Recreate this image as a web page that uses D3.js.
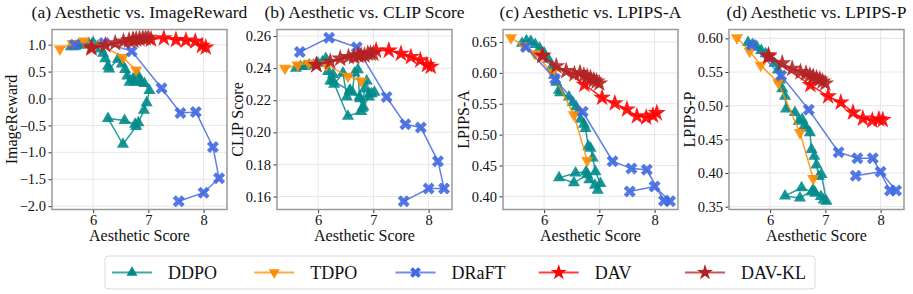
<!DOCTYPE html>
<html>
<head>
<meta charset="utf-8">
<script src="https://cdn.jsdelivr.net/npm/d3@7"></script>
<style>
  body { margin: 0; background: #fff; }
  svg text { font-family: "Liberation Serif", "DejaVu Serif", serif; }
</style>
</head>
<body>
<div id="chart"></div>
<script>
// aesthetic score (shared x of every panel)
var ddpoX  = [5.60, 5.68, 5.76, 5.84, 5.92, 6.00, 6.08, 6.14, 6.18, 6.22, 6.27, 6.29, 6.45, 6.52, 6.58, 6.62,
              6.66, 6.72, 6.75, 6.80, 6.84, 6.88, 6.93, 7.02, 6.97, 6.92, 6.82, 6.78, 6.54, 6.27, 6.57, 6.76];
var tdpoX  = [5.40, 5.63, 5.83, 6.15, 6.54, 6.78];
var draftX = [5.67, 6.20, 6.70, 7.24, 7.58, 7.86, 8.17, 8.28, 8.00, 7.55];
var davX   = [5.97, 6.73, 7.05, 7.28, 7.50, 7.68, 7.85, 7.97, 8.04];
var davklX = [5.97, 6.22, 6.40, 6.55, 6.65, 6.72, 6.78, 6.84, 6.90, 6.95, 7.00];

// ImageReward
var ddpoIR  = [0.96, 0.97, 0.99, 1.00, 1.02, 1.04, 0.97, 0.92, 0.84, 0.74, 0.60, 0.55, 0.73, 0.64, 0.54, 0.42,
               0.30, 0.36, 0.30, 0.45, 0.33, 0.30, 0.28, 0.15, -0.08, -0.22, -0.45, -0.52, -0.85, -0.37, -0.41, -0.48];
var tdpoIR  = [0.92, 1.02, 1.07, 1.00, 0.76, 0.53];
var draftIR = [1.00, 1.03, 0.88, 0.19, -0.27, -0.25, -0.90, -1.48, -1.75, -1.91];
var davIR   = [0.93, 1.08, 1.10, 1.12, 1.09, 1.08, 1.06, 0.98, 0.95];
var davklIR = [0.95, 0.99, 1.03, 1.06, 1.08, 1.09, 1.10, 1.11, 1.12, 1.12, 1.13];

// CLIP score
var ddpoCLIP  = [0.240, 0.241, 0.241, 0.242, 0.242, 0.243, 0.244, 0.246, 0.238, 0.232, 0.236, 0.230, 0.237, 0.222, 0.226, 0.225,
                 0.237, 0.239, 0.222, 0.215, 0.227, 0.232, 0.224, 0.225, 0.224, 0.222, 0.216, 0.213, 0.210, 0.232, 0.226, 0.221];
var tdpoCLIP  = [0.240, 0.242, 0.243, 0.242, 0.235, 0.232];
var draftCLIP = [0.250, 0.259, 0.253, 0.222, 0.205, 0.203, 0.182, 0.165, 0.165, 0.157];
var davCLIP   = [0.242, 0.248, 0.251, 0.251, 0.249, 0.247, 0.245, 0.242, 0.241];
var davklCLIP = [0.242, 0.244, 0.246, 0.247, 0.247, 0.248, 0.248, 0.248, 0.249, 0.249, 0.249];

// LPIPS-A
var ddpoLA  = [0.648, 0.652, 0.651, 0.646, 0.640, 0.632, 0.622, 0.610, 0.596, 0.585, 0.572, 0.568, 0.561, 0.552, 0.545, 0.537,
               0.525, 0.517, 0.510, 0.481, 0.478, 0.462, 0.440, 0.421, 0.410, 0.418, 0.427, 0.435, 0.422, 0.430, 0.438, 0.440];
var tdpoLA  = [0.657, 0.644, 0.631, 0.600, 0.532, 0.458];
var draftLA = [0.642, 0.590, 0.537, 0.457, 0.445, 0.443, 0.393, 0.392, 0.416, 0.408];
var davLA   = [0.628, 0.581, 0.560, 0.551, 0.541, 0.530, 0.528, 0.531, 0.535];
var davklLA = [0.628, 0.611, 0.603, 0.598, 0.600, 0.596, 0.594, 0.592, 0.588, 0.586, 0.583];

// LPIPS-P
var ddpoLP  = [0.594, 0.591, 0.587, 0.582, 0.577, 0.570, 0.563, 0.553, 0.538, 0.525, 0.514, 0.495, 0.490, 0.477, 0.480, 0.470,
               0.467, 0.460, 0.435, 0.425, 0.412, 0.395, 0.398, 0.358, 0.360, 0.365, 0.370, 0.375, 0.363, 0.366, 0.378, 0.372];
var tdpoLP  = [0.601, 0.581, 0.560, 0.534, 0.460, 0.392];
var draftLP = [0.590, 0.545, 0.494, 0.431, 0.422, 0.422, 0.374, 0.374, 0.402, 0.396];
var davLP   = [0.573, 0.531, 0.514, 0.505, 0.490, 0.481, 0.478, 0.480, 0.479];
var davklLP = [0.575, 0.563, 0.555, 0.550, 0.548, 0.545, 0.543, 0.541, 0.539, 0.536, 0.533];

var methods = ["DDPO", "TDPO", "DRaFT", "DAV", "DAV-KL"];
var xTicks = [6, 7, 8];
var titles = ["(a) Aesthetic vs. ImageReward", "(b) Aesthetic vs. CLIP Score",
              "(c) Aesthetic vs. LPIPS-A", "(d) Aesthetic vs. LPIPS-P"];
var yLabels = ["ImageReward", "CLIP Score", "LPIPS-A", "LPIPS-P"];
var yTicks = [
  [-2.0, -1.5, -1.0, -0.5, 0.0, 0.5, 1.0],
  [0.16, 0.18, 0.20, 0.22, 0.24, 0.26],
  [0.40, 0.45, 0.50, 0.55, 0.60, 0.65],
  [0.35, 0.40, 0.45, 0.50, 0.55, 0.60]
];

var xs = [ddpoX, tdpoX, draftX, davX, davklX];
var ys = [
  [ddpoIR, tdpoIR, draftIR, davIR, davklIR],
  [ddpoCLIP, tdpoCLIP, draftCLIP, davCLIP, davklCLIP],
  [ddpoLA, tdpoLA, draftLA, davLA, davklLA],
  [ddpoLP, tdpoLP, draftLP, davLP, davklLP]
];

var colors = ["#008b8b", "#ff8c00", "#4169e1", "#ff0000", "#b22222"];
var symbols = [
  { type: d3.symbolTriangle, size: 64, rot: 0 },
  { type: d3.symbolTriangle, size: 64, rot: 180 },
  { type: d3.symbolCross, size: 90, rot: 45 },
  { type: d3.symbolStar, size: 100, rot: 0 },
  { type: d3.symbolStar, size: 100, rot: 0 }
];

var W = 913, H = 294;
var panelLeft = [52, 277, 503, 729];
var pw = 175, plotTop = 29.5, plotBottom = 209.5;

var svg = d3.select("#chart").append("svg").attr("width", W).attr("height", H);

// shared x domain with matplotlib style 5% margins
var allX = d3.merge(xs);
var xe = d3.extent(allX), xm = (xe[1] - xe[0]) * 0.05;

function fmtY(p, v) {
  var s = p == 0 ? v.toFixed(1) : v.toFixed(2);
  return s.replace("-", "\u2212");
}

ys.forEach(function (series, p) {
  var x0 = panelLeft[p];
  var x = d3.scaleLinear().domain([xe[0] - xm, xe[1] + xm]).range([x0, x0 + pw]);
  var ye = d3.extent(d3.merge(series)), ym = (ye[1] - ye[0]) * 0.05;
  var y = d3.scaleLinear().domain([ye[0] - ym, ye[1] + ym]).range([plotBottom, plotTop]);
  var g = svg.append("g");

  // grid
  g.selectAll(".gx").data(xTicks).enter().append("line")
    .attr("x1", d => x(d)).attr("x2", d => x(d)).attr("y1", plotTop).attr("y2", plotBottom)
    .attr("stroke", "#e6e6e6").attr("stroke-width", 1);
  g.selectAll(".gy").data(yTicks[p]).enter().append("line")
    .attr("x1", x0).attr("x2", x0 + pw).attr("y1", d => y(d)).attr("y2", d => y(d))
    .attr("stroke", "#e6e6e6").attr("stroke-width", 1);

  // axes
  var ax = g.append("g").attr("transform", "translate(0," + plotBottom + ")")
    .call(d3.axisBottom(x).tickValues(xTicks).tickFormat(d3.format("d")).tickSize(3.5).tickPadding(1.5));
  var ay = g.append("g").attr("transform", "translate(" + x0 + ",0)")
    .call(d3.axisLeft(y).tickValues(yTicks[p]).tickFormat(v => fmtY(p, v)).tickSize(3.5).tickPadding(2.5));
  [ax, ay].forEach(function (a) {
    a.select(".domain").remove();
    a.attr("font-family", null);
    a.selectAll("text").attr("fill", "#111").style("font-size", "14.5px");
    a.selectAll("line").attr("stroke", "#333");
  });

  // series
  series.forEach(function (vals, m) {
    var pts = vals.map((v, i) => [xs[m][i], v]);
    g.append("path").datum(pts)
      .attr("d", d3.line().x(d => x(d[0])).y(d => y(d[1])))
      .attr("fill", "none").attr("stroke", colors[m]).attr("stroke-width", 1.5)
      .attr("stroke-opacity", 0.85);
    var sym = d3.symbol().type(symbols[m].type).size(symbols[m].size);
    g.selectAll(null).data(pts).enter().append("path")
      .attr("d", sym)
      .attr("transform", d => "translate(" + x(d[0]) + "," + y(d[1]) + ") rotate(" + symbols[m].rot + ")")
      .attr("fill", colors[m]).attr("fill-opacity", 0.9);
  });

  // frame
  g.append("rect").attr("x", x0).attr("y", plotTop).attr("width", pw).attr("height", plotBottom - plotTop)
    .attr("fill", "none").attr("stroke", "#999").attr("stroke-width", 1.5);

  // title and labels
  g.append("text").attr("x", x0 + pw / 2).attr("y", 17.5).attr("text-anchor", "middle")
    .style("font-size", "17.5px").attr("fill", "#111").text(titles[p]);
  g.append("text").attr("x", x0 + pw / 2).attr("y", 240.5).attr("text-anchor", "middle")
    .style("font-size", "16px").attr("fill", "#111").text("Aesthetic Score");
  // y label sits just left of the tick labels, like matplotlib
  var lx = ay.node().getBBox().x + x0 - 3;
  g.append("text").attr("transform", "translate(" + lx + "," + ((plotTop + plotBottom) / 2) + ") rotate(-90)")
    .attr("text-anchor", "middle").style("font-size", "16px").attr("fill", "#111").text(yLabels[p]);
});

// legend
var lg = svg.append("g");
lg.append("rect").attr("x", 105).attr("y", 256).attr("width", 710).attr("height", 33).attr("rx", 3)
  .attr("fill", "#fff").attr("stroke", "#d9d9d9").attr("stroke-width", 1);
var legX = d3.scalePoint().domain(methods).range([112, 685]);
methods.forEach(function (name, m) {
  var lx = legX(name) + (m == 0 ? 0 : m == 1 ? -1 : m == 2 ? -3 : m == 3 ? -3 : 0);
  lg.append("line").attr("x1", lx).attr("x2", lx + 40).attr("y1", 272.5).attr("y2", 272.5)
    .attr("stroke", colors[m]).attr("stroke-width", 2).attr("stroke-opacity", 0.75);
  lg.append("path").attr("d", d3.symbol().type(symbols[m].type).size(symbols[m].size * 0.8))
    .attr("transform", "translate(" + (lx + 20) + ",272.5) rotate(" + symbols[m].rot + ")")
    .attr("fill", colors[m]);
  lg.append("text").attr("x", lx + 56).attr("y", 278.5).style("font-size", "18px").attr("fill", "#111").text(name);
});
</script>
</body>
</html>
